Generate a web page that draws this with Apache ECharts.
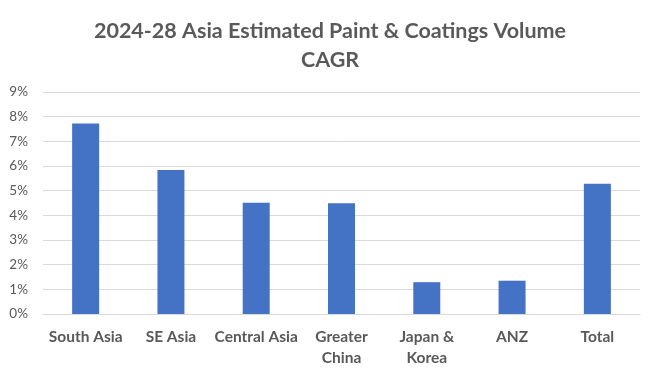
<!DOCTYPE html>
<html><head><meta charset="utf-8">
<script src="https://cdn.jsdelivr.net/npm/echarts@6/dist/echarts.min.js"></script>
<style>html,body{margin:0;padding:0;background:#fff}#c{width:660px;height:378px}</style>
</head><body><div id="c"></div>
<script>
var categories = ['South Asia', 'SE Asia', 'Central Asia', 'Greater\nChina', 'Japan &\nKorea', 'ANZ', 'Total'];
var cagr = [7.72, 5.84, 4.51, 4.49, 1.29, 1.35, 5.28];
var titleText = '2024-28 Asia Estimated Paint & Coatings Volume\nCAGR';

var chart = echarts.init(document.getElementById('c'));
chart.setOption({
  animation: false,
  backgroundColor: '#fff',
  title: {
    text: titleText, left: 'center', top: 12,
    textStyle: { fontFamily: 'Lato', fontWeight: 'bold', fontSize: 21.5, color: '#595959', lineHeight: 29 }
  },
  grid: { left: 43, right: 20, top: 92, bottom: 64 },
  xAxis: {
    type: 'category', data: categories,
    axisLine: { lineStyle: { color: '#d9d9d9', width: 1 } },
    axisTick: { show: false },
    axisLabel: { fontFamily: 'Lato', fontWeight: 'bold', fontSize: 15.5, color: '#595959', margin: 12, lineHeight: 21, interval: 0 }
  },
  yAxis: {
    type: 'value', min: 0, max: 9, interval: 1,
    axisLine: { show: false }, axisTick: { show: false },
    splitLine: { lineStyle: { color: '#d9d9d9', width: 1 } },
    axisLabel: { formatter: '{value}%', fontFamily: 'Lato', fontSize: 13.5, color: '#595959', margin: 15 }
  },
  series: [{
    type: 'bar', data: cagr, barWidth: 27,
    itemStyle: { color: '#4472c4' }
  }]
});
</script></body></html>
